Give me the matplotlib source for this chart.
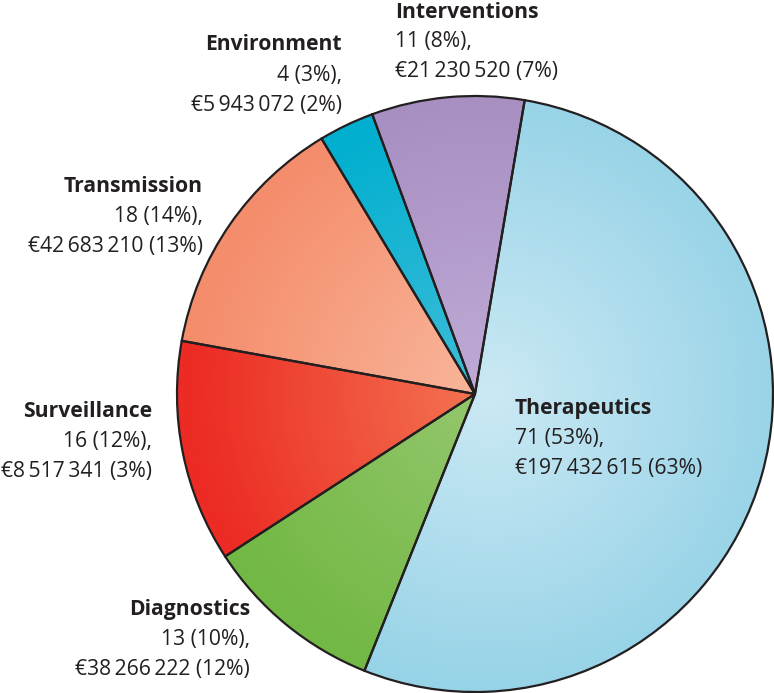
import numpy as np
import matplotlib
matplotlib.use("Agg")
import matplotlib.pyplot as plt
from matplotlib.colors import to_rgb

# ---- data ----
categories = ["Therapeutics", "Diagnostics", "Surveillance", "Transmission", "Environment", "Interventions"]
counts = [71, 13, 16, 18, 4, 11]
count_pct = [53, 10, 12, 14, 3, 8]
funding = ["197\u2009432\u2009615", "38\u2009266\u2009222", "8\u2009517\u2009341", "42\u2009683\u2009210", "5\u2009943\u2009072", "21\u2009230\u2009520"]
funding_pct = [63, 12, 3, 13, 2, 7]

outer_colors = ["#97d3e7", "#72b844", "#ec2b24", "#f48d6c", "#00afcf", "#a88fc2"]
inner_colors = ["#cbe9f4", "#95c76e", "#f47653", "#f9b79c", "#40bdd9", "#bfabd7"]

# label anchor (pixel x, first-line pixel y, alignment)
label_pos = {
    "Therapeutics": (515, 409, "left"),
    "Diagnostics": (250, 610, "right"),
    "Surveillance": (152, 412, "right"),
    "Transmission": (203, 187, "right"),
    "Environment": (342, 45, "right"),
    "Interventions": (395, 12, "left"),
}

W, H = 774, 693
CX, CY, R = 475, 394, 298

fig = plt.figure(figsize=(W / 100, H / 100), dpi=100)
ax = fig.add_axes([0, 0, 1, 1])

wedges, _ = ax.pie(counts, startangle=80.4, counterclock=False, radius=1,
                   colors=outer_colors,
                   wedgeprops=dict(edgecolor="#231f20", linewidth=1.6))

# radial gradient fill
n = 600
xs = np.linspace(-1, 1, n)
X, Y = np.meshgrid(xs, xs)
Rr = np.clip(np.sqrt((X - 0.05) ** 2 + (Y + 0.0) ** 2), 0, 1)
for w, oc, ic in zip(wedges, outer_colors, inner_colors):
    o = np.array(to_rgb(oc)); i = np.array(to_rgb(ic))
    img = i[None, None, :] * (1 - Rr[..., None]) + o[None, None, :] * Rr[..., None]
    im = ax.imshow(img, extent=[-1, 1, -1, 1], origin="lower", zorder=1.5, interpolation="bilinear")
    im.set_clip_path(w)
    w.set_zorder(2)
    w.set_facecolor("none")

fam = ["Open Sans", "DejaVu Sans"]
tc = "#231f20"
def px(x, y):
    return (x - CX) / R, (CY - y) / R

for k, cat in enumerate(categories):
    x, y, ha = label_pos[cat]
    lines = [cat, f"{counts[k]} ({count_pct[k]}%),", f"\u20ac{funding[k]} ({funding_pct[k]}%)"]
    for j, line in enumerate(lines):
        ax.text(*px(x, y + 30 * j), line, ha=ha, va="center", fontsize=15.2,
                fontweight="bold" if j == 0 else "normal", family=fam, color=tc, zorder=5)

ax.set_xlim(-CX / R, (W - CX) / R)
ax.set_ylim(-(H - CY) / R, CY / R)
ax.set_aspect("equal")
ax.axis("off")

fig.savefig("out.png", dpi=100)
